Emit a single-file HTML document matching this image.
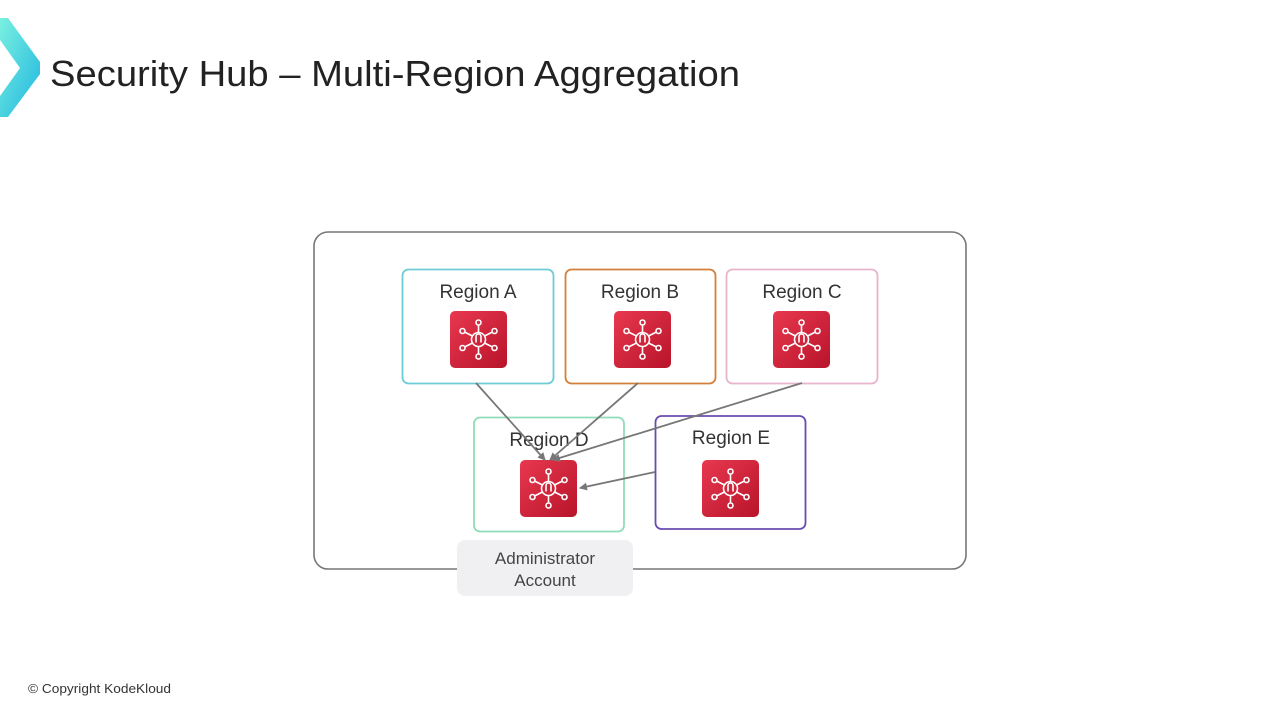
<!DOCTYPE html>
<html><head><meta charset="utf-8"><style>
html,body{margin:0;padding:0;background:#fff;}
svg{display:block;}
text{font-family:"Liberation Sans","DejaVu Sans",sans-serif;}
</style></head><body>
<svg width="1280" height="720" viewBox="0 0 1280 720" xmlns="http://www.w3.org/2000/svg">
<defs>
<linearGradient id="lg" x1="0" y1="0" x2="1" y2="1">
<stop offset="0" stop-color="#7af0e0"/><stop offset="1" stop-color="#1fb6e0"/></linearGradient>
<linearGradient id="rg" x1="0" y1="0" x2="1" y2="1">
<stop offset="0" stop-color="#e8384f"/><stop offset="1" stop-color="#b8142a"/></linearGradient>
<marker id="ah" markerWidth="8" markerHeight="8" refX="7" refY="4" orient="auto" markerUnits="userSpaceOnUse">
<path d="M0,0 L8,4 L0,8 z" fill="#777"/></marker>
<symbol id="ic" viewBox="-28.5 -28.5 57 57">
<rect x="-28.5" y="-28.5" width="57" height="57" rx="5" fill="url(#rg)"/>
<g stroke="#fff" stroke-width="1.6" fill="none">
<circle r="7"/>
<path d="M-2.5,-3 v6 M2.5,-3 v6 M-2.5,-3 a2.5,2.5 0 0 1 5,0"/>
<path d="M0,-7 v-8 M0,7 v8 M-6,-3.5 l-8,-4 M6,-3.5 l8,-4 M-6,3.5 l-8,4 M6,3.5 l8,4"/>
<circle cy="-17" r="2.5"/><circle cy="17" r="2.5"/>
<circle cx="-16" cy="-8.5" r="2.5"/><circle cx="16" cy="-8.5" r="2.5"/>
<circle cx="-16" cy="8.5" r="2.5"/><circle cx="16" cy="8.5" r="2.5"/>
</g>
</symbol>
</defs>
<polygon points="0,18 8,18 40,62 40,74 8,117 0,117 0,96 20,68 0,40" fill="url(#lg)"/>
<text x="50" y="86" font-size="36" fill="#222" textLength="690" lengthAdjust="spacingAndGlyphs">Security Hub – Multi-Region Aggregation</text>

<rect x="314" y="232" width="652" height="337" rx="14" fill="none" stroke="#777" stroke-width="1.6"/>

<rect x="402.5" y="269.5" width="151" height="114" rx="6" fill="#fff" stroke="#6cccd8" stroke-width="1.8"/>
<rect x="565.5" y="269.5" width="150" height="114" rx="6" fill="#fff" stroke="#d4803a" stroke-width="1.8"/>
<rect x="726.5" y="269.5" width="151" height="114" rx="6" fill="#fff" stroke="#e8b4cc" stroke-width="1.8"/>
<rect x="474" y="417.5" width="150" height="114" rx="6" fill="#fff" stroke="#90dcb8" stroke-width="1.8"/>
<rect x="655.5" y="416" width="150" height="113" rx="6" fill="#fff" stroke="#6a4cb0" stroke-width="1.8"/>

<g font-size="19" fill="#333" text-anchor="middle">
<text x="478" y="298">Region A</text>
<text x="640" y="298">Region B</text>
<text x="802" y="298">Region C</text>
<text x="549" y="446">Region D</text>
<text x="731" y="444">Region E</text>
</g>

<use href="#ic" x="450" y="311" width="57" height="57"/>
<use href="#ic" x="614" y="311" width="57" height="57"/>
<use href="#ic" x="773" y="311" width="57" height="57"/>
<use href="#ic" x="520" y="460" width="57" height="57"/>
<use href="#ic" x="702" y="460" width="57" height="57"/>

<g stroke="#777" stroke-width="1.8" marker-end="url(#ah)">
<line x1="476" y1="383" x2="545" y2="460"/>
<line x1="638" y1="383" x2="550" y2="460"/>
<line x1="802" y1="383" x2="553" y2="460"/>
<line x1="655" y1="472" x2="580" y2="488"/>
</g>

<rect x="457" y="540" width="176" height="56" rx="8" fill="#f0eff1"/>
<g font-size="17" fill="#444" text-anchor="middle">
<text x="545" y="564">Administrator</text>
<text x="545" y="586">Account</text>
</g>

<text x="28" y="693" font-size="13" fill="#333" textLength="143" lengthAdjust="spacingAndGlyphs">© Copyright KodeKloud</text>
</svg>
</body></html>
